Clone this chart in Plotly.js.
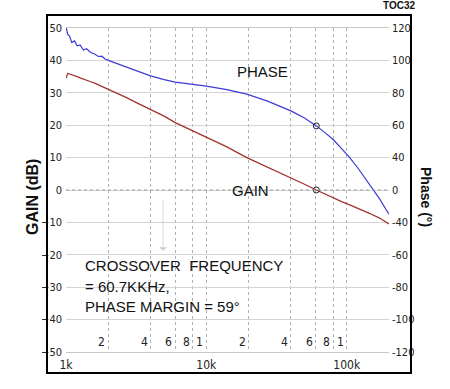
<!DOCTYPE html>
<html>
<head>
<meta charset="utf-8">
<script src="https://cdn.plot.ly/plotly-3.0.1.min.js"></script>
<style>html,body{margin:0;padding:0;background:#fff;}#chart{width:450px;height:389px;}</style>
</head>
<body>
<div id="chart"></div>
<script>
// Frequency points (Hz)
const freq = [1000,1030,1060,1100,1150,1200,1260,1330,1400,1500,1600,1700,1800,1900,2000,2300,2700,3200,4000,5000,6000,8000,10000,14000,19400,27000,40000,50000,60700,70000,80000,92000,105000,120000,145000,170000,200000];
// Gain (dB)
const gain = [34.5,36.0,35.8,35.6,35.2,35.0,34.6,34.3,33.9,33.4,33.0,32.5,32.0,31.6,31.1,29.9,28.5,26.9,24.9,22.8,20.8,18.3,16.4,13.3,10.0,7.2,3.8,1.8,0,-1.3,-2.5,-3.6,-4.6,-5.6,-7.2,-8.6,-10.5];
// Phase in right-axis plot units
const phase = [120.7,115.2,114,109.2,110.4,106.8,107.5,103.7,104.6,101.8,100.8,98.9,99.1,97,96,93.6,90.7,87.8,84.5,81.8,79.9,78.2,77,74.4,71,66,58.6,53.3,47.5,42.5,37.4,30.7,24,16.3,4.3,-6,-18];
// Crossover markers
const crossFreq = [60700];
const crossGain = [0];
const crossPhase = [47.5];
// Axis ticks
const xGridVals = [1000,2000,4000,6000,8000,10000,20000,40000,60000,80000,100000];
const xMajorVals = [1000,10000,100000];
const xMajorText = ['1k','10k','100k'];
const xMinorVals = [2000,4000,6000,8000,10000,20000,40000,60000,80000,100000];
const xMinorText = ['2','4','6','8','1','2','4','6','8','1'];
const gainTicks = [50,40,30,20,10,0,-10,-20,-30,-40,-50];
const phaseTickVals = [120,96,72,48,24,0,-24,-48,-72,-96,-120];
const phaseTickText = ['120','100','80','60','40','0','-40','-60','-80','-100','-120'];

const narrow = "'Liberation Sans Narrow','DejaVu Sans Condensed','Arial Narrow',sans-serif";
const sans = "'Liberation Sans',Arial,sans-serif";

const traces = [
  {x: freq, y: phase, yaxis: 'y2', mode: 'lines', line: {color: '#3b3bd6', width: 1.2}, hoverinfo: 'skip'},
  {x: freq, y: gain, mode: 'lines', line: {color: '#a0302e', width: 1.2}, hoverinfo: 'skip'},
  {x: crossFreq, y: crossPhase, yaxis: 'y2', mode: 'markers', marker: {symbol: 'circle-open', size: 6, color: '#222', line: {width: 1}}},
  {x: crossFreq, y: crossGain, mode: 'markers', marker: {symbol: 'circle-open', size: 6, color: '#222', line: {width: 1}}}
];

const annotations = [];
xMinorVals.forEach((v, i) => {
  annotations.push({x: Math.log10(v), y: -50, xref: 'x', yref: 'y', text: xMinorText[i], showarrow: false,
    xanchor: 'right', yanchor: 'bottom', xshift: -1, yshift: 1, font: {family: narrow, size: 12, color: '#222'}});
});
annotations.push(
  {x: 262, y: 72, text: 'PHASE'},
  {x: 250, y: 190, text: 'GAIN'},
  {x: 83, y: 265, text: 'CROSSOVER  FREQUENCY', xa: 'left'},
  {x: 83, y: 286, text: '= 60.7KKHz,', xa: 'left'},
  {x: 83, y: 306, text: 'PHASE MARGIN = 59°', xa: 'left'}
);
// convert pixel-positioned text annotations to paper coordinates
const L = 66, T = 28, W = 323, H = 324;
function px(x) { return (x - L) / W; }
function py(y) { return 1 - (y - T) / H; }
for (let i = xMinorVals.length; i < annotations.length; i++) {
  const a = annotations[i];
  annotations[i] = {x: px(a.x), y: py(a.y), xref: 'paper', yref: 'paper', text: a.text, showarrow: false,
    xanchor: a.xa || 'center', yanchor: 'middle', font: {family: sans, size: 15, color: '#111'}};
}
annotations.push(
  {x: px(32), y: py(197), xref: 'paper', yref: 'paper', text: '<b>GAIN (dB)</b>', textangle: -90, showarrow: false,
   xanchor: 'center', yanchor: 'middle', font: {family: sans, size: 16, color: '#111'}},
  {x: px(426), y: py(197), xref: 'paper', yref: 'paper', text: '<b>Phase (°)</b>', textangle: 90, showarrow: false,
   xanchor: 'center', yanchor: 'middle', font: {family: sans, size: 14, color: '#111'}},
  {x: px(399), y: py(6), xref: 'paper', yref: 'paper', text: '<b>TOC32</b>', showarrow: false,
   xanchor: 'center', yanchor: 'middle', font: {family: sans, size: 10, color: '#111'}},
  {x: px(163), y: py(251), ax: px(163), ay: py(198), xref: 'paper', yref: 'paper', axref: 'paper', ayref: 'paper',
   text: '', showarrow: true, arrowhead: 1, arrowsize: 1.6, arrowwidth: 0.8, arrowcolor: '#cfcfcf'}
);

const layout = {
  width: 450, height: 389,
  margin: {l: L, r: 450 - L - W, t: T, b: 389 - T - H, pad: 0},
  paper_bgcolor: '#fff', plot_bgcolor: '#fff',
  showlegend: false,
  xaxis: {type: 'log', range: [3, Math.log10(200000)], tickvals: xGridVals,
    ticktext: xGridVals.map(v => { const k = xMajorVals.indexOf(v); return k >= 0 ? xMajorText[k] : ''; }),
    showgrid: true, gridcolor: '#b0b0b0', griddash: 'dot', gridwidth: 1,
    showline: true, linecolor: '#c8c8c8', linewidth: 1, mirror: true, ticks: '', zeroline: false,
    tickfont: {family: narrow, size: 12, color: '#222'}, ticklabelstandoff: 2},
  yaxis: {range: [-50, 50], tickvals: gainTicks, showgrid: true, gridcolor: '#d4d4d4', gridwidth: 1,
    zeroline: false, showline: false, ticks: '', tickfont: {family: narrow, size: 11, color: '#222'}, ticklabelstandoff: 3},
  yaxis2: {range: [-120, 120], overlaying: 'y', side: 'right', tickvals: phaseTickVals, ticktext: phaseTickText,
    showgrid: false, zeroline: false, ticks: '', tickfont: {family: narrow, size: 11, color: '#222'}, ticklabelstandoff: 2},
  shapes: [
    {type: 'line', xref: 'paper', yref: 'y', x0: 0, x1: 1, y0: 0, y1: 0, line: {color: '#9a9a9a', width: 1, dash: 'dot'}},
    {type: 'rect', xref: 'paper', yref: 'paper', x0: px(47), x1: px(411), y0: py(373), y1: py(15),
     line: {color: '#000', width: 2}, fillcolor: 'rgba(0,0,0,0)'}
  ],
  annotations: annotations
};

Plotly.newPlot('chart', traces, layout, {staticPlot: true, displayModeBar: false});
</script>
</body>
</html>
